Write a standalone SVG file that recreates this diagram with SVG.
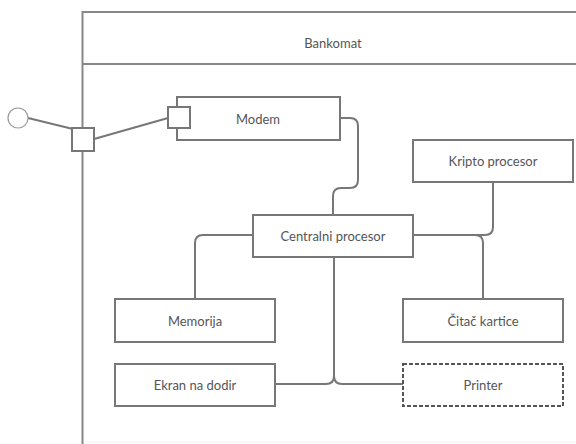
<svg xmlns="http://www.w3.org/2000/svg" width="576" height="444" viewBox="0 0 576 444">
<style>
.box{fill:#fff;stroke:#777;stroke-width:2}
.dash{fill:#fff;stroke:#555;stroke-width:2;stroke-dasharray:4 2}
.ln{fill:none;stroke:#777;stroke-width:2}
.t{font-family:Lato,"Open Sans",sans-serif;font-size:13px;fill:#555;text-anchor:middle;dominant-baseline:central}
</style>
<rect width="576" height="444" fill="#fff"/>
<g id="bankomat">
<path d="M82.5 444 V12 H576" fill="none" stroke="#888" stroke-width="2"/>
<line x1="82.5" y1="64" x2="576" y2="64" stroke="#888" stroke-width="2"/>
<line x1="84" y1="442" x2="576" y2="442" stroke="#f2f2f2" stroke-width="1"/>
<text class="t" x="333" y="43">Bankomat</text>
</g>
<g id="connectors">
<line class="ln" x1="28" y1="118" x2="73" y2="129"/>
<line class="ln" x1="94" y1="139" x2="168" y2="118"/>
<path class="ln" d="M340 118 H350 Q358 118 358 126 V180 Q358 188 350 188 H341 Q333 188 333 196 V215"/>
<path class="ln" d="M253 235 H203 Q195 235 195 243 V299"/>
<path class="ln" d="M413 235 H485 Q493 235 493 227 V182"/>
<path class="ln" d="M475 235 Q483 235 483 243 V299"/>
<path class="ln" d="M334 257 V376 Q334 384 326 384 H275"/>
<path class="ln" d="M334 376 Q334 384 342 384 H403"/>
</g>
<g id="port-outer">
<circle cx="18" cy="118" r="10" fill="#fff" stroke="#999" stroke-width="1.2"/>
<rect class="box" x="72" y="128" width="22" height="23"/>
</g>
<g id="modem">
<rect class="box" x="177" y="97" width="163" height="43"/>
<rect class="box" x="168" y="107" width="22" height="21"/>
<text class="t" x="258" y="119">Modem</text>
</g>
<g id="kripto">
<rect class="box" x="413" y="140" width="160" height="42"/>
<text class="t" x="493" y="161">Kripto procesor</text>
</g>
<g id="centralni">
<rect class="box" x="253" y="215" width="160" height="42"/>
<text class="t" x="333" y="236">Centralni procesor</text>
</g>
<g id="memorija">
<rect class="box" x="115" y="299" width="160" height="43"/>
<text class="t" x="195" y="321">Memorija</text>
</g>
<g id="citac">
<rect class="box" x="403" y="299" width="160" height="43"/>
<text class="t" x="483" y="321">Čitač kartice</text>
</g>
<g id="ekran">
<rect class="box" x="115" y="364" width="160" height="42"/>
<text class="t" x="195" y="385">Ekran na dodir</text>
</g>
<g id="printer">
<rect class="dash" x="403" y="364" width="160" height="42"/>
<text class="t" x="483" y="385">Printer</text>
</g>
</svg>
